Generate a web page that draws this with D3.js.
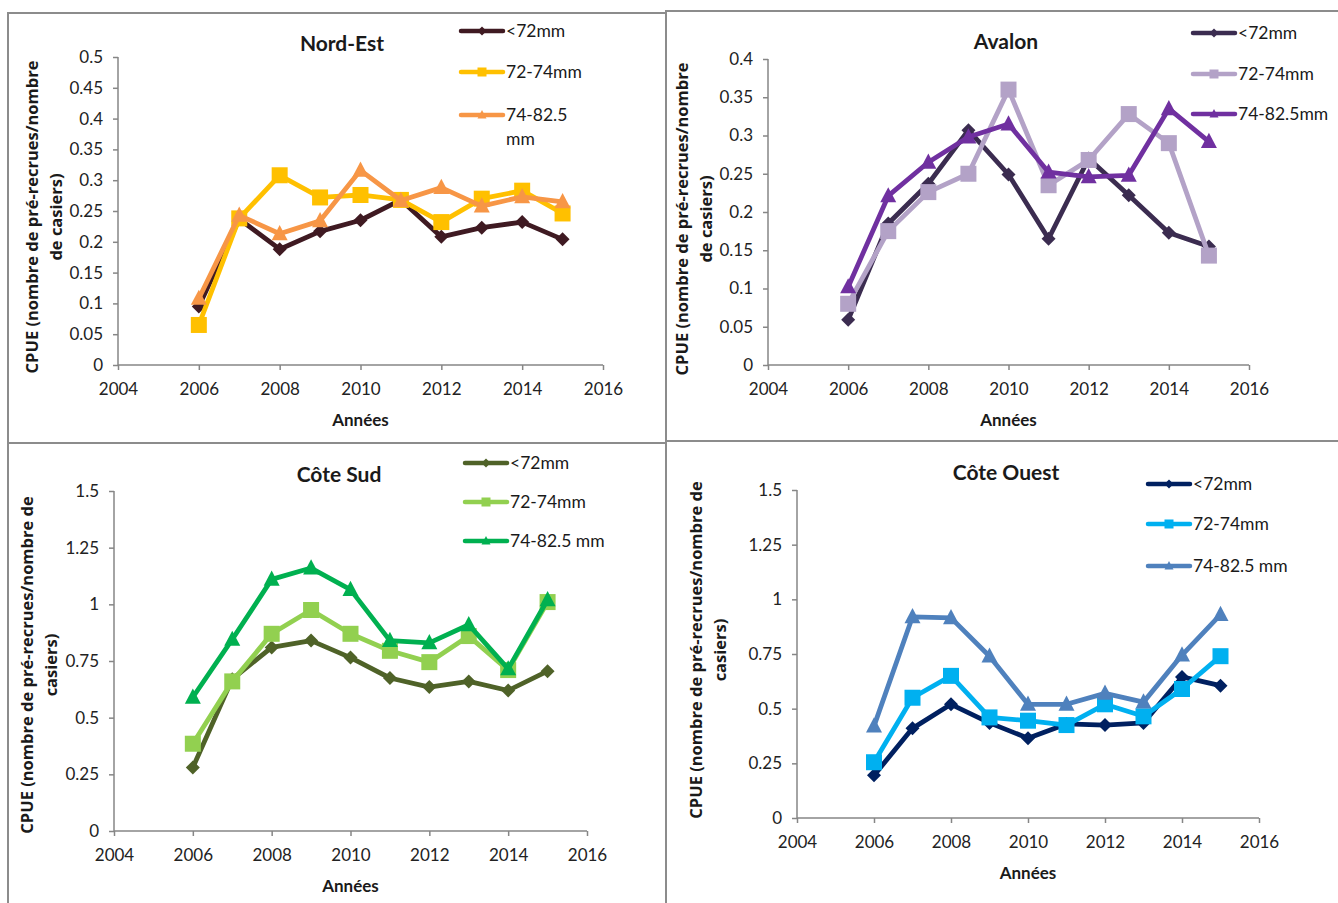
<!DOCTYPE html>
<html>
<head>
<meta charset="utf-8">
<script src="https://cdn.jsdelivr.net/npm/d3@7"></script>
<style>
  body { margin: 0; background: #fff; }
  svg text { font-family: Lato, "Open Sans", sans-serif; fill: #1a1a1a; }
  .tick text { font-size: 17px; fill: #222; }
  .title { font-size: 21px; font-weight: bold; }
  .axtitle { font-size: 17px; font-weight: bold; }
  svg text.ytitle { font-family: "Open Sans", sans-serif; font-size: 16.5px; font-weight: bold; }
  .leg { font-size: 17.5px; }
</style>
</head>
<body>
<svg id="chart" width="1338" height="903"></svg>
<script>
// years shared by all four regions
var years = [2006, 2007, 2008, 2009, 2010, 2011, 2012, 2013, 2014, 2015];
var xTicks = [2004, 2006, 2008, 2010, 2012, 2014, 2016];
var seriesNames = ["<72mm", "72-74mm", "74-82.5mm"];

// Nord-Est
var ne_lt72 = [0.095, 0.237, 0.188, 0.217, 0.235, 0.268, 0.208, 0.223, 0.232, 0.204];
var ne_72_74 = [0.065, 0.238, 0.308, 0.272, 0.276, 0.268, 0.232, 0.270, 0.283, 0.246];
var ne_74_825 = [0.108, 0.243, 0.213, 0.234, 0.316, 0.267, 0.288, 0.258, 0.273, 0.265];
// Avalon
var av_lt72 = [0.059, 0.185, 0.237, 0.307, 0.249, 0.165, 0.270, 0.222, 0.173, 0.155];
var av_72_74 = [0.080, 0.175, 0.226, 0.250, 0.360, 0.235, 0.268, 0.328, 0.290, 0.143];
var av_74_825 = [0.102, 0.221, 0.265, 0.298, 0.315, 0.252, 0.246, 0.248, 0.335, 0.292];
// Côte Sud
var cs_lt72 = [0.28, 0.67, 0.81, 0.84, 0.765, 0.675, 0.635, 0.66, 0.62, 0.705];
var cs_72_74 = [0.385, 0.66, 0.87, 0.975, 0.87, 0.795, 0.745, 0.86, 0.71, 1.01];
var cs_74_825 = [0.59, 0.845, 1.11, 1.16, 1.065, 0.84, 0.83, 0.91, 0.715, 1.02];
// Côte Ouest
var co_lt72 = [0.195, 0.41, 0.52, 0.435, 0.365, 0.43, 0.425, 0.435, 0.645, 0.605];
var co_72_74 = [0.255, 0.55, 0.65, 0.46, 0.445, 0.425, 0.52, 0.465, 0.59, 0.74];
var co_74_825 = [0.42, 0.92, 0.915, 0.74, 0.52, 0.52, 0.57, 0.53, 0.745, 0.93];

var yTicksSmall = [0, 0.05, 0.1, 0.15, 0.2, 0.25, 0.3, 0.35, 0.4, 0.45, 0.5];
var yTicksBig = [0, 0.25, 0.5, 0.75, 1, 1.25, 1.5];

var svg = d3.select("#chart");

// panel frames
var frames = [[8, 13, 658, 430], [666, 11, 680, 430], [8, 443, 658, 470], [666, 441, 680, 470]];
frames.forEach(function(f) {
  svg.append("rect").attr("x", f[0]).attr("y", f[1]).attr("width", f[2]).attr("height", f[3])
    .attr("fill", "none").attr("stroke", "#8c8c8c").attr("stroke-width", 2);
});

function marker(g, kind, x, y, s, color) {
  if (kind == "diamond") {
    g.append("path").attr("d", "M" + x + "," + (y - s) + "L" + (x + s) + "," + y + "L" + x + "," + (y + s) + "L" + (x - s) + "," + y + "Z")
      .attr("fill", color);
  } else if (kind == "square") {
    g.append("rect").attr("x", x - s).attr("y", y - s).attr("width", 2 * s).attr("height", 2 * s).attr("fill", color);
  } else {
    g.append("path").attr("d", "M" + x + "," + (y - s * 1.1) + "L" + (x + s) + "," + (y + s * 0.8) + "L" + (x - s) + "," + (y + s * 0.8) + "Z")
      .attr("fill", color);
  }
}

var kinds = ["diamond", "square", "triangle"];

function drawPanel(p) {
  var g = svg.append("g");
  var x = d3.scaleLinear().domain([2004, 2016]).range([p.x0, p.x1]);
  var y = d3.scaleLinear().domain([0, p.ymax]).range([p.y0, p.y1]);

  var ya = g.append("g").attr("transform", "translate(" + p.x0 + ",0)")
    .call(d3.axisLeft(y).tickValues(p.yticks).tickSize(5).tickPadding(10).tickFormat(function(d) { return String(+d.toFixed(2)); }));
  var xa = g.append("g").attr("transform", "translate(0," + p.y0 + ")")
    .call(d3.axisBottom(x).tickValues(xTicks).tickSize(5).tickPadding(13).tickFormat(d3.format("d")));
  [ya, xa].forEach(function(a) {
    a.selectAll("path,line").attr("stroke", "#868686").attr("stroke-width", 1.5);
    a.select(".domain").attr("d", a === ya ? "M0," + p.y0 + "V" + p.y1 : "M" + p.x0 + ",0H" + p.x1);
  });

  var line = d3.line().x(function(d, i) { return x(years[i]); }).y(function(d) { return y(d); });
  p.series.forEach(function(vals, k) {
    g.append("path").datum(vals).attr("d", line).attr("fill", "none")
      .attr("stroke", p.colors[k]).attr("stroke-width", 4.8).attr("stroke-linejoin", "round");
    vals.forEach(function(v, i) { marker(g, kinds[k], x(years[i]), y(v), k == 0 ? 7 : 8, p.colors[k]); });
  });

  g.append("text").attr("class", "title").attr("x", p.tx).attr("y", p.ty).attr("text-anchor", "middle").text(p.title);
  g.append("text").attr("class", "axtitle").attr("x", (p.x0 + p.x1) / 2).attr("y", p.y0 + 61).attr("text-anchor", "middle").text("Années");
  p.ylab.forEach(function(t, i) {
    g.append("text").attr("class", "ytitle").attr("text-anchor", "middle")
      .attr("transform", "translate(" + (p.ylx + i * 24) + "," + p.yly + ") rotate(-90)").text(t);
  });

  // legend
  p.legRows.forEach(function(ry, k) {
    g.append("line").attr("x1", p.lx).attr("x2", p.lx + 42).attr("y1", ry).attr("y2", ry)
      .attr("stroke", p.colors[k]).attr("stroke-width", 4.5).attr("stroke-linecap", "round");
    marker(g, kinds[k], p.lx + 21, ry, 4.5, p.colors[k]);
    p.legText[k].forEach(function(t, j) {
      g.append("text").attr("class", "leg").attr("x", p.lx + 45).attr("y", ry + 6 + j * 24).text(t);
    });
  });
}

drawPanel({
  title: "Nord-Est", tx: 342, ty: 51,
  x0: 118, x1: 603, y0: 365, y1: 57, ymax: 0.5, yticks: yTicksSmall,
  series: [ne_lt72, ne_72_74, ne_74_825],
  colors: ["#3f1a22", "#ffc000", "#f79646"],
  ylab: ["CPUE (nombre de pré-recrues/nombre", "de casiers)"], ylx: 38, yly: 217,
  lx: 461, legRows: [31, 72, 115],
  legText: [[seriesNames[0]], [seriesNames[1]], ["74-82.5", "mm"]]
});
drawPanel({
  title: "Avalon", tx: 1006, ty: 49,
  x0: 768, x1: 1249, y0: 365, y1: 59, ymax: 0.4, yticks: yTicksSmall.slice(0, 9),
  series: [av_lt72, av_72_74, av_74_825],
  colors: ["#3b2c50", "#b3a2c7", "#7030a0"],
  ylab: ["CPUE (nombre de pré-recrues/nombre", "de casiers)"], ylx: 688, yly: 219,
  lx: 1193, legRows: [33, 74, 114],
  legText: [[seriesNames[0]], [seriesNames[1]], [seriesNames[2]]]
});
drawPanel({
  title: "Côte Sud", tx: 339, ty: 482,
  x0: 114, x1: 587, y0: 831, y1: 491, ymax: 1.5, yticks: yTicksBig,
  series: [cs_lt72, cs_72_74, cs_74_825],
  colors: ["#4f6228", "#92d050", "#00b050"],
  ylab: ["CPUE (nombre de pré-recrues/nombre de", "casiers)"], ylx: 33, yly: 665,
  lx: 465, legRows: [463, 502, 541],
  legText: [[seriesNames[0]], [seriesNames[1]], ["74-82.5 mm"]]
});
drawPanel({
  title: "Côte Ouest", tx: 1006, ty: 480,
  x0: 797, x1: 1259, y0: 818, y1: 490, ymax: 1.5, yticks: yTicksBig,
  series: [co_lt72, co_72_74, co_74_825],
  colors: ["#002060", "#00b0f0", "#4f81bd"],
  ylab: ["CPUE (nombre de pré-recrues/nombre de", "casiers)"], ylx: 702, yly: 650,
  lx: 1148, legRows: [484, 524, 566],
  legText: [[seriesNames[0]], [seriesNames[1]], ["74-82.5 mm"]]
});
</script>
</body>
</html>
